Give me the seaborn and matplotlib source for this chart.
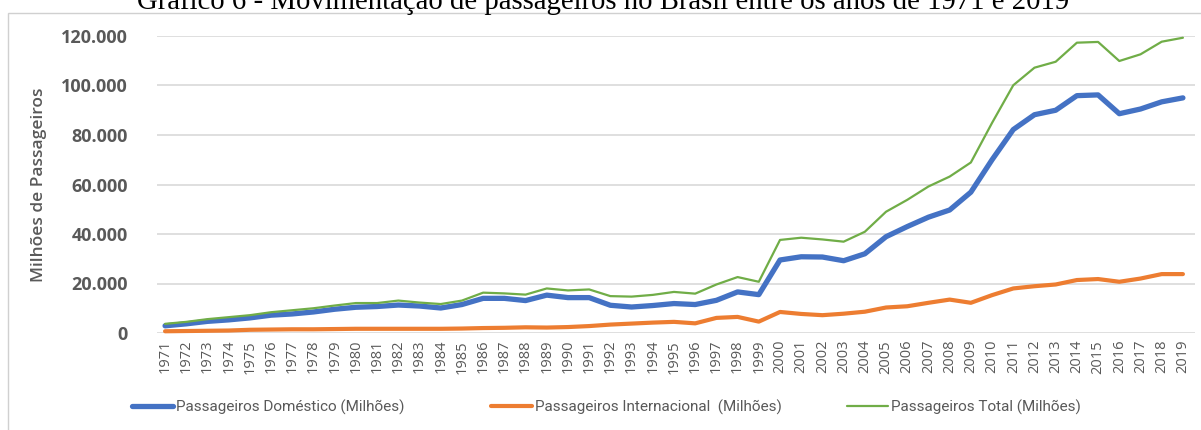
import matplotlib
matplotlib.use("Agg")
import matplotlib.pyplot as plt
import matplotlib.ticker as mticker
from matplotlib.lines import Line2D
from matplotlib.patches import Rectangle
import seaborn as sns
import pandas as pd

years = list(range(1971, 2020))

domestico = [2900, 3700, 4700, 5300, 6100, 7200, 7700, 8500, 9600, 10400,
             10700, 11300, 10900, 10100, 11500, 14000, 14000, 13100, 15300, 14300,
             14300, 11200, 10500, 11100, 11900, 11500, 13200, 16600, 15500, 29500,
             30800, 30700, 29200, 32000, 38900, 43000, 46800, 49700, 56900, 70000,
             82200, 88200, 90000, 95900, 96200, 88600, 90500, 93400, 95000]

internacional = [700, 800, 900, 1000, 1300, 1400, 1500, 1500, 1600, 1700,
                 1700, 1700, 1700, 1700, 1800, 2000, 2100, 2300, 2200, 2400,
                 2800, 3400, 3800, 4200, 4500, 3900, 6100, 6500, 4600, 8500,
                 7700, 7200, 7800, 8600, 10300, 10800, 12200, 13500, 12200, 15300,
                 18000, 18900, 19600, 21400, 21800, 20700, 22000, 23800, 23800]

total = [3700, 4500, 5600, 6400, 7200, 8400, 9200, 10000, 11100, 12100,
         12100, 13100, 12300, 11700, 13100, 16300, 16000, 15500, 18000, 17200,
         17600, 14900, 14700, 15400, 16600, 15900, 19600, 22600, 20700, 37600,
         38500, 37800, 36900, 40900, 49000, 53800, 59200, 63200, 68900, 84900,
         100100, 107200, 109600, 117300, 117600, 109900, 112600, 117700, 119300]

series_names = ["Passageiros Doméstico (Milhões)",
                "Passageiros Internacional  (Milhões)",
                "Passageiros Total (Milhões)"]
colors = ["#4472C4", "#ED7D31", "#70AD47"]
widths = [3.8, 3.0, 1.6]

df = pd.DataFrame({"ano": years, series_names[0]: domestico,
                   series_names[1]: internacional, series_names[2]: total})

sns.set_theme(style="white")
W, H = 1201, 430
fig = plt.figure(figsize=(W / 100, H / 100), dpi=100)

# outer frame
fig.patches.append(Rectangle((8 / W, -0.1), 1.2, (H - 13) / H + 0.1, transform=fig.transFigure,
                             fill=False, edgecolor="#D0D0D0", linewidth=1.0))

fig.text(603 / W, 1 - 9 / H, "Gráfico 6 - Movimentação de passageiros no Brasil entre os anos de 1971 e 2019",
         ha="center", va="baseline", fontsize=20.7, family="Liberation Serif", color="black")

ax = fig.add_axes([157 / W, (H - 333) / H, (1195 - 157) / W, (333 - 36) / H])

for name, c, lw in zip(series_names, colors, widths):
    sns.lineplot(data=df, x="ano", y=name, ax=ax, color=c, linewidth=lw,
                 solid_capstyle="round", clip_on=False, legend=False)

ax.set_xlim(1971 - 0.38, 2019 + 0.57)
ax.set_ylim(0, 120000)
ax.set_yticks(range(0, 120001, 20000))
ax.yaxis.set_major_formatter(mticker.FuncFormatter(lambda v, p: f"{int(v):,}".replace(",", ".")))
ax.set_xticks(years)
ax.set_xticklabels([str(y) for y in years], rotation=90)

for s in ax.spines.values():
    s.set_visible(False)
ax.grid(axis="y", color="#D9D9D9", linewidth=1.2)
ax.grid(axis="x", visible=False)
ax.set_axisbelow(True)
ax.tick_params(axis="y", length=0, pad=21, labelsize=13, labelcolor="#595959")
ax.tick_params(axis="x", length=0, pad=5, labelsize=10.5, labelcolor="#595959")
for t in ax.get_yticklabels():
    t.set_family("Open Sans")
    t.set_fontweight("bold")
for t in ax.get_xticklabels():
    t.set_family("Open Sans")

ax.set_xlabel("")
ax.set_ylabel("Milhões de Passageiros", fontsize=12.5, color="#595959", family="Open Sans",
              fontweight="semibold")
ax.yaxis.set_label_coords(-(157 - 47) / (1195 - 157), (333 - 185) / (333 - 36))

legend_x = [126, 485, 841]
for name, c, lw, lx in zip(series_names, colors, widths, legend_x):
    h = Line2D([0], [0], color=c, linewidth=lw, solid_capstyle="round")
    leg = fig.legend([h], [name], loc="center left", bbox_to_anchor=(lx / W, 1 - 407 / H),
                     frameon=False, handlelength=2.7, handletextpad=0.2, borderaxespad=0,
                     prop={"family": "Roboto", "size": 11})
    for t in leg.get_texts():
        t.set_color("#595959")

fig.savefig("out.png", dpi=100)
